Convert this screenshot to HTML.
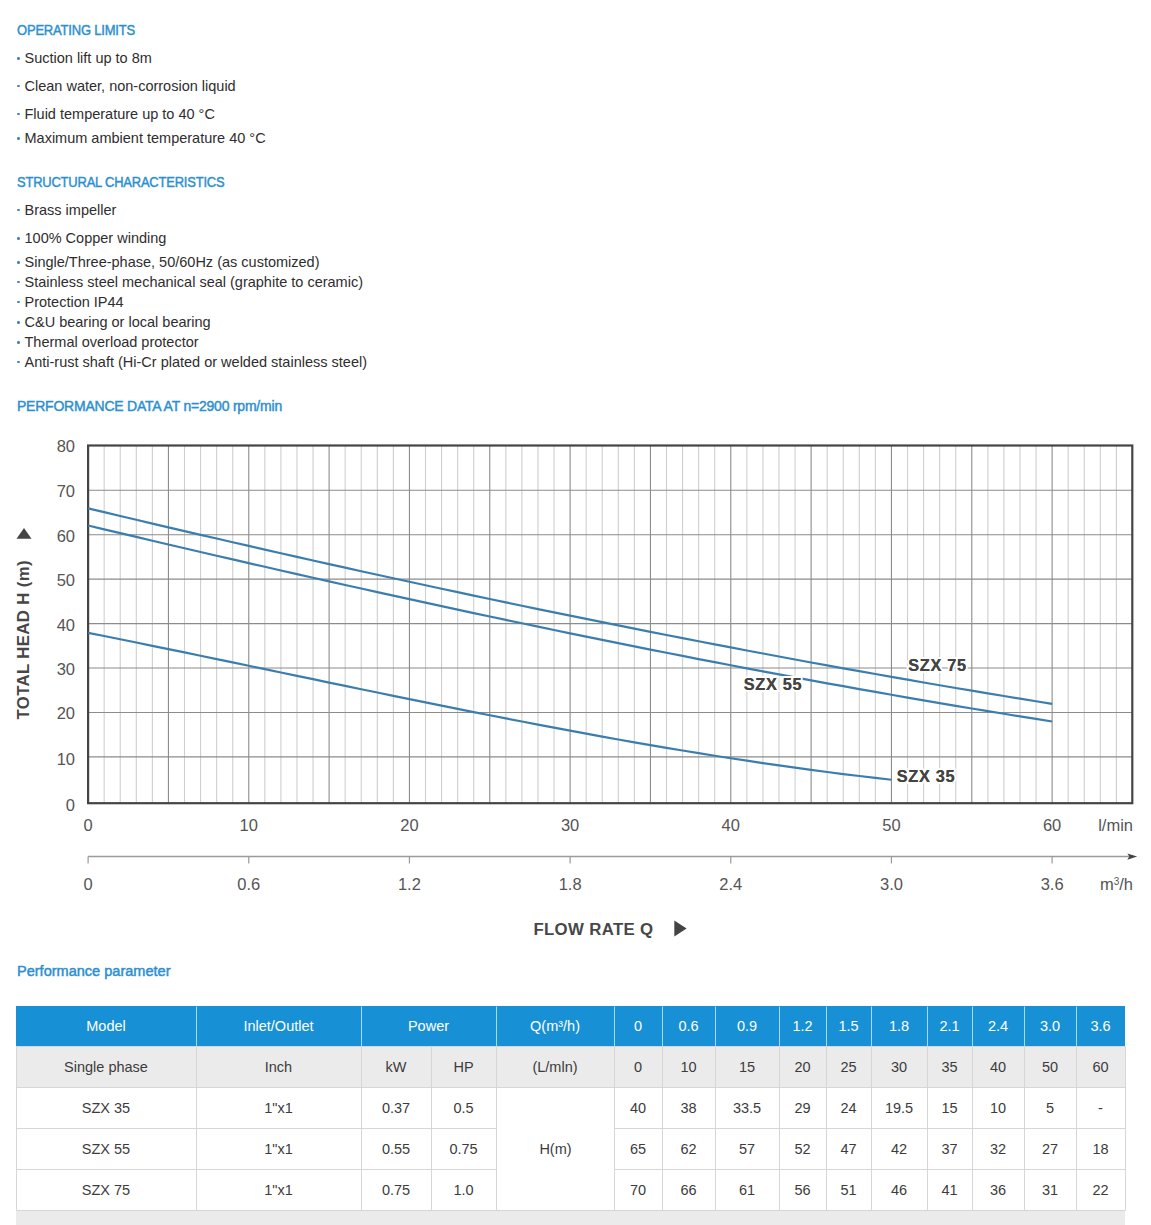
<!DOCTYPE html>
<html><head><meta charset="utf-8"><title>SZX</title><style>
*{margin:0;padding:0;box-sizing:border-box}
html,body{width:1151px;height:1225px;overflow:hidden;background:#fff}
body{position:relative;font-family:"Liberation Sans", sans-serif;}
.h{position:absolute;left:17px;height:20px;line-height:20px;font-size:13.5px;font-weight:normal;-webkit-text-stroke:0.45px #2b8fd0;color:#2b8fd0;white-space:nowrap;transform-origin:0 0}
.h.pp{letter-spacing:0}
.li{position:absolute;left:24.5px;height:20px;line-height:20px;font-size:14.5px;color:#2e2e2e;white-space:nowrap}
.li i{position:absolute;left:-7.3px;top:9.0px;width:2.7px;height:2.7px;border-radius:50%;background:#4a85b5}
.chart{position:absolute;left:0;top:0}
.chart text{font-family:"Liberation Sans", sans-serif}
.ax{font-size:16.5px;fill:#555}
.cl{font-size:16.3px;font-weight:bold;fill:#444;letter-spacing:0.7px}
.tt{font-size:16.8px;font-weight:bold;fill:#474747;letter-spacing:0.35px}
.thead{position:absolute;background:#1890d5}
.grey{position:absolute;background:#ebebeb}
.tl{position:absolute;left:0;top:0}
.th,.td{position:absolute;text-align:center;font-size:14.5px;white-space:nowrap}
.th{color:#fff}
.td{color:#3c3c3c}
</style></head>
<body>
<div class="h" style="top:20.15px;font-size:14.3px;letter-spacing:-0.2px;transform:scaleX(0.9079)">OPERATING LIMITS</div>
<div class="li" style="top:48.08px"><i></i>Suction lift up to 8m</div>
<div class="li" style="top:75.78px"><i></i>Clean water, non-corrosion liquid</div>
<div class="li" style="top:103.78px"><i></i>Fluid temperature up to 40 °C</div>
<div class="li" style="top:127.98px"><i></i>Maximum ambient temperature 40 °C</div>
<div class="h" style="top:171.95px;font-size:14.3px;letter-spacing:-0.2px;transform:scaleX(0.9041)">STRUCTURAL CHARACTERISTICS</div>
<div class="li" style="top:199.78px"><i></i>Brass impeller</div>
<div class="li" style="top:228.38px"><i></i>100% Copper winding</div>
<div class="li" style="top:251.88px"><i></i>Single/Three-phase, 50/60Hz (as customized)</div>
<div class="li" style="top:271.78px"><i></i>Stainless steel mechanical seal (graphite to ceramic)</div>
<div class="li" style="top:291.68px"><i></i>Protection IP44</div>
<div class="li" style="top:311.88px"><i></i>C&amp;U bearing or local bearing</div>
<div class="li" style="top:331.88px"><i></i>Thermal overload protector</div>
<div class="li" style="top:351.68px"><i></i>Anti-rust shaft (Hi-Cr plated or welded stainless steel)</div>
<div class="h" style="top:395.85px;font-size:14.3px;letter-spacing:-0.2px;transform:scaleX(0.9762)">PERFORMANCE DATA AT n=2900 rpm/min</div>
<div class="h" style="top:960.85px;font-size:14px;letter-spacing:0px;transform:scaleX(1.0381)">Performance parameter</div>

<svg class="chart" width="1151" height="960" viewBox="0 0 1151 960"><path d="M104.17 445.5V803.2M120.23 445.5V803.2M136.30 445.5V803.2M152.37 445.5V803.2M184.50 445.5V803.2M200.57 445.5V803.2M216.64 445.5V803.2M232.70 445.5V803.2M264.84 445.5V803.2M280.90 445.5V803.2M296.97 445.5V803.2M313.04 445.5V803.2M345.17 445.5V803.2M361.24 445.5V803.2M377.31 445.5V803.2M393.37 445.5V803.2M425.51 445.5V803.2M441.57 445.5V803.2M457.64 445.5V803.2M473.71 445.5V803.2M505.84 445.5V803.2M521.91 445.5V803.2M537.98 445.5V803.2M554.04 445.5V803.2M586.18 445.5V803.2M602.24 445.5V803.2M618.31 445.5V803.2M634.38 445.5V803.2M666.51 445.5V803.2M682.58 445.5V803.2M698.65 445.5V803.2M714.71 445.5V803.2M746.85 445.5V803.2M762.91 445.5V803.2M778.98 445.5V803.2M795.05 445.5V803.2M827.18 445.5V803.2M843.25 445.5V803.2M859.32 445.5V803.2M875.38 445.5V803.2M907.52 445.5V803.2M923.58 445.5V803.2M939.65 445.5V803.2M955.72 445.5V803.2M987.85 445.5V803.2M1003.92 445.5V803.2M1019.99 445.5V803.2M1036.05 445.5V803.2M1068.19 445.5V803.2M1084.25 445.5V803.2M1100.32 445.5V803.2M1116.39 445.5V803.2" stroke="#cfcfcf" stroke-width="1.1" fill="none"/><path d="M168.44 445.5V803.2M248.77 445.5V803.2M329.11 445.5V803.2M409.44 445.5V803.2M489.77 445.5V803.2M570.11 445.5V803.2M650.45 445.5V803.2M730.78 445.5V803.2M811.12 445.5V803.2M891.45 445.5V803.2M971.79 445.5V803.2M1052.12 445.5V803.2" stroke="#8c8c8c" stroke-width="1.1" fill="none"/><path d="M88.1 756.87H1132.3M88.1 712.44H1132.3M88.1 668.01H1132.3M88.1 623.58H1132.3M88.1 579.15H1132.3M88.1 534.72H1132.3M88.1 490.29H1132.3" stroke="#8c8c8c" stroke-width="1.1" fill="none"/><rect x="88.1" y="445.5" width="1044.2" height="357.7" fill="none" stroke="#444" stroke-width="2.2"/><polyline points="88.10,508.32 104.17,512.16 120.23,515.98 136.30,519.78 152.37,523.57 168.44,527.34 184.50,531.09 200.57,534.83 216.64,538.55 232.70,542.25 248.77,545.94 264.84,549.61 280.90,553.25 296.97,556.89 313.04,560.50 329.11,564.09 345.17,567.67 361.24,571.23 377.31,574.76 393.37,578.28 409.44,581.78 425.51,585.26 441.57,588.72 457.64,592.16 473.71,595.58 489.77,598.98 505.84,602.36 521.91,605.72 537.98,609.06 554.04,612.38 570.11,615.67 586.18,618.95 602.24,622.20 618.31,625.43 634.38,628.64 650.45,631.83 666.51,635.00 682.58,638.14 698.65,641.26 714.71,644.36 730.78,647.43 746.85,650.48 762.91,653.51 778.98,656.52 795.05,659.50 811.12,662.46 827.18,665.39 843.25,668.30 859.32,671.18 875.38,674.04 891.45,676.88 907.52,679.69 923.58,682.48 939.65,685.24 955.72,687.97 971.79,690.68 987.85,693.36 1003.92,696.02 1019.99,698.65 1036.05,701.26 1052.12,703.84" fill="none" stroke="#3b7eae" stroke-width="2.2" stroke-linejoin="round"/><polyline points="88.10,525.49 104.17,529.32 120.23,533.13 136.30,536.93 152.37,540.71 168.44,544.48 184.50,548.24 200.57,551.98 216.64,555.71 232.70,559.42 248.77,563.12 264.84,566.80 280.90,570.46 296.97,574.11 313.04,577.74 329.11,581.36 345.17,584.95 361.24,588.53 377.31,592.09 393.37,595.64 409.44,599.16 425.51,602.67 441.57,606.15 457.64,609.62 473.71,613.07 489.77,616.49 505.84,619.90 521.91,623.29 537.98,626.65 554.04,629.99 570.11,633.32 586.18,636.62 602.24,639.90 618.31,643.15 634.38,646.38 650.45,649.59 666.51,652.78 682.58,655.94 698.65,659.08 714.71,662.20 730.78,665.29 746.85,668.35 762.91,671.39 778.98,674.41 795.05,677.40 811.12,680.36 827.18,683.30 843.25,686.20 859.32,689.09 875.38,691.94 891.45,694.77 907.52,697.57 923.58,700.34 939.65,703.09 955.72,705.80 971.79,708.49 987.85,711.14 1003.92,713.77 1019.99,716.37 1036.05,718.93 1052.12,721.47" fill="none" stroke="#3b7eae" stroke-width="2.2" stroke-linejoin="round"/><polyline points="88.10,632.81 104.17,636.03 120.23,639.28 136.30,642.54 152.37,645.82 168.44,649.12 184.50,652.43 200.57,655.76 216.64,659.10 232.70,662.44 248.77,665.79 264.84,669.14 280.90,672.50 296.97,675.85 313.04,679.20 329.11,682.55 345.17,685.89 361.24,689.22 377.31,692.54 393.37,695.84 409.44,699.13 425.51,702.40 441.57,705.65 457.64,708.88 473.71,712.08 489.77,715.26 505.84,718.41 521.91,721.52 537.98,724.61 554.04,727.66 570.11,730.67 586.18,733.64 602.24,736.57 618.31,739.46 634.38,742.30 650.45,745.09 666.51,747.83 682.58,750.52 698.65,753.16 714.71,755.73 730.78,758.25 746.85,760.71 762.91,763.10 778.98,765.43 795.05,767.69 811.12,769.89 827.18,772.00 843.25,774.05 859.32,776.02 875.38,777.91 891.45,779.72" fill="none" stroke="#3b7eae" stroke-width="2.2" stroke-linejoin="round"/><text x="908.2" y="670.5" class="cl" stroke="#fff" stroke-width="4" paint-order="stroke">SZX 75</text><text x="908.2" y="670.5" class="cl">SZX 75</text><text x="743.8" y="690.4" class="cl" stroke="#fff" stroke-width="4" paint-order="stroke">SZX 55</text><text x="743.8" y="690.4" class="cl">SZX 55</text><text x="896.8" y="782.1" class="cl" stroke="#fff" stroke-width="4" paint-order="stroke">SZX 35</text><text x="896.8" y="782.1" class="cl">SZX 35</text><text x="75" y="810.7" class="ax" text-anchor="end">0</text><text x="75" y="764.8" class="ax" text-anchor="end">10</text><text x="75" y="719.3" class="ax" text-anchor="end">20</text><text x="75" y="674.9" class="ax" text-anchor="end">30</text><text x="75" y="630.5" class="ax" text-anchor="end">40</text><text x="75" y="586.0" class="ax" text-anchor="end">50</text><text x="75" y="541.6" class="ax" text-anchor="end">60</text><text x="75" y="497.2" class="ax" text-anchor="end">70</text><text x="75" y="452.4" class="ax" text-anchor="end">80</text><text x="88.1" y="830.7" class="ax" text-anchor="middle">0</text><text x="248.8" y="830.7" class="ax" text-anchor="middle">10</text><text x="409.4" y="830.7" class="ax" text-anchor="middle">20</text><text x="570.1" y="830.7" class="ax" text-anchor="middle">30</text><text x="730.8" y="830.7" class="ax" text-anchor="middle">40</text><text x="891.5" y="830.7" class="ax" text-anchor="middle">50</text><text x="1052.1" y="830.7" class="ax" text-anchor="middle">60</text><text x="1133" y="830.7" class="ax" text-anchor="end">l/min</text><path d="M88.1 856.6H1129" stroke="#9a9a9a" stroke-width="1.5"/><path d="M1127.3 853.4L1137.2 856.6L1127.3 859.8L1129.3 856.6Z" fill="#444"/><path d="M88.10 856.6V863.6M248.77 856.6V863.6M409.44 856.6V863.6M570.11 856.6V863.6M730.78 856.6V863.6M891.45 856.6V863.6M1052.12 856.6V863.6" stroke="#9a9a9a" stroke-width="1.2"/><text x="88.1" y="890" class="ax" text-anchor="middle">0</text><text x="248.8" y="890" class="ax" text-anchor="middle">0.6</text><text x="409.4" y="890" class="ax" text-anchor="middle">1.2</text><text x="570.1" y="890" class="ax" text-anchor="middle">1.8</text><text x="730.8" y="890" class="ax" text-anchor="middle">2.4</text><text x="891.5" y="890" class="ax" text-anchor="middle">3.0</text><text x="1052.1" y="890" class="ax" text-anchor="middle">3.6</text><text x="1133" y="890" class="ax" text-anchor="end">m<tspan dy="-5.5" font-size="10">3</tspan><tspan dy="5.5">/h</tspan></text><text x="533.4" y="935.2" class="tt">FLOW RATE Q</text><path d="M674.3 920.6L686.6 928.5L674.3 936.4Z" fill="#444"/><text transform="translate(29.4 719.5) rotate(-90)" class="tt">TOTAL HEAD H (m)</text><path d="M16.5 538.8L24 528L31.5 538.8Z" fill="#444"/></svg>
<div class="thead" style="left:16px;top:1006px;width:1109.0px;height:40.0px"></div><div class="grey" style="left:16px;top:1046px;width:1109.0px;height:41.0px"></div><div class="grey" style="left:16px;top:1210px;width:1109.0px;height:30px"></div><svg class="tl" width="1151" height="1225"><path d="M16 1046H1125M16 1087H1125M16 1128H1125M16 1169H1125M16 1210H1125M16 1046V1210M196 1046V1210M361 1046V1210M431 1046V1210M496 1046V1210M614 1046V1210M662 1046V1210M715 1046V1210M779 1046V1210M826 1046V1210M871 1046V1210M927 1046V1210M972 1046V1210M1024 1046V1210M1076 1046V1210M1125 1046V1210" stroke="#d6d6d6" stroke-width="1" fill="none" transform="translate(0.5 0.5)"/><path d="M196 1006V1046M361 1006V1046M496 1006V1046M614 1006V1046M662 1006V1046M715 1006V1046M779 1006V1046M826 1006V1046M871 1006V1046M927 1006V1046M972 1006V1046M1024 1006V1046M1076 1006V1046" stroke="#a6dbf7" stroke-width="1" fill="none" transform="translate(0.5 0.5)"/></svg><div class="th" style="left:16px;top:1006.0px;width:180.0px;height:40.0px;line-height:40.0px">Model</div><div class="th" style="left:196px;top:1006.0px;width:165.0px;height:40.0px;line-height:40.0px">Inlet/Outlet</div><div class="th" style="left:361px;top:1006.0px;width:135.0px;height:40.0px;line-height:40.0px">Power</div><div class="th" style="left:496px;top:1006.0px;width:118.0px;height:40.0px;line-height:40.0px">Q(m³/h)</div><div class="th" style="left:614px;top:1006.0px;width:48.0px;height:40.0px;line-height:40.0px">0</div><div class="th" style="left:662px;top:1006.0px;width:53.0px;height:40.0px;line-height:40.0px">0.6</div><div class="th" style="left:715px;top:1006.0px;width:64.0px;height:40.0px;line-height:40.0px">0.9</div><div class="th" style="left:779px;top:1006.0px;width:47.0px;height:40.0px;line-height:40.0px">1.2</div><div class="th" style="left:826px;top:1006.0px;width:45.0px;height:40.0px;line-height:40.0px">1.5</div><div class="th" style="left:871px;top:1006.0px;width:56.0px;height:40.0px;line-height:40.0px">1.8</div><div class="th" style="left:927px;top:1006.0px;width:45.0px;height:40.0px;line-height:40.0px">2.1</div><div class="th" style="left:972px;top:1006.0px;width:52.0px;height:40.0px;line-height:40.0px">2.4</div><div class="th" style="left:1024px;top:1006.0px;width:52.0px;height:40.0px;line-height:40.0px">3.0</div><div class="th" style="left:1076px;top:1006.0px;width:49.0px;height:40.0px;line-height:40.0px">3.6</div><div class="td" style="left:16px;top:1046.6px;width:180.0px;height:41.0px;line-height:41.0px">Single phase</div><div class="td" style="left:196px;top:1046.6px;width:165.0px;height:41.0px;line-height:41.0px">Inch</div><div class="td" style="left:361px;top:1046.6px;width:70.0px;height:41.0px;line-height:41.0px">kW</div><div class="td" style="left:431px;top:1046.6px;width:65.0px;height:41.0px;line-height:41.0px">HP</div><div class="td" style="left:496px;top:1046.6px;width:118.0px;height:41.0px;line-height:41.0px">(L/mln)</div><div class="td" style="left:614px;top:1046.6px;width:48.0px;height:41.0px;line-height:41.0px">0</div><div class="td" style="left:662px;top:1046.6px;width:53.0px;height:41.0px;line-height:41.0px">10</div><div class="td" style="left:715px;top:1046.6px;width:64.0px;height:41.0px;line-height:41.0px">15</div><div class="td" style="left:779px;top:1046.6px;width:47.0px;height:41.0px;line-height:41.0px">20</div><div class="td" style="left:826px;top:1046.6px;width:45.0px;height:41.0px;line-height:41.0px">25</div><div class="td" style="left:871px;top:1046.6px;width:56.0px;height:41.0px;line-height:41.0px">30</div><div class="td" style="left:927px;top:1046.6px;width:45.0px;height:41.0px;line-height:41.0px">35</div><div class="td" style="left:972px;top:1046.6px;width:52.0px;height:41.0px;line-height:41.0px">40</div><div class="td" style="left:1024px;top:1046.6px;width:52.0px;height:41.0px;line-height:41.0px">50</div><div class="td" style="left:1076px;top:1046.6px;width:49.0px;height:41.0px;line-height:41.0px">60</div><div class="td" style="left:16px;top:1087.6px;width:180.0px;height:41.0px;line-height:41.0px">SZX 35</div><div class="td" style="left:196px;top:1087.6px;width:165.0px;height:41.0px;line-height:41.0px">1"x1</div><div class="td" style="left:361px;top:1087.6px;width:70.0px;height:41.0px;line-height:41.0px">0.37</div><div class="td" style="left:431px;top:1087.6px;width:65.0px;height:41.0px;line-height:41.0px">0.5</div><div class="td" style="left:614px;top:1087.6px;width:48.0px;height:41.0px;line-height:41.0px">40</div><div class="td" style="left:662px;top:1087.6px;width:53.0px;height:41.0px;line-height:41.0px">38</div><div class="td" style="left:715px;top:1087.6px;width:64.0px;height:41.0px;line-height:41.0px">33.5</div><div class="td" style="left:779px;top:1087.6px;width:47.0px;height:41.0px;line-height:41.0px">29</div><div class="td" style="left:826px;top:1087.6px;width:45.0px;height:41.0px;line-height:41.0px">24</div><div class="td" style="left:871px;top:1087.6px;width:56.0px;height:41.0px;line-height:41.0px">19.5</div><div class="td" style="left:927px;top:1087.6px;width:45.0px;height:41.0px;line-height:41.0px">15</div><div class="td" style="left:972px;top:1087.6px;width:52.0px;height:41.0px;line-height:41.0px">10</div><div class="td" style="left:1024px;top:1087.6px;width:52.0px;height:41.0px;line-height:41.0px">5</div><div class="td" style="left:1076px;top:1087.6px;width:49.0px;height:41.0px;line-height:41.0px">-</div><div class="td" style="left:16px;top:1128.6px;width:180.0px;height:41.0px;line-height:41.0px">SZX 55</div><div class="td" style="left:196px;top:1128.6px;width:165.0px;height:41.0px;line-height:41.0px">1"x1</div><div class="td" style="left:361px;top:1128.6px;width:70.0px;height:41.0px;line-height:41.0px">0.55</div><div class="td" style="left:431px;top:1128.6px;width:65.0px;height:41.0px;line-height:41.0px">0.75</div><div class="td" style="left:614px;top:1128.6px;width:48.0px;height:41.0px;line-height:41.0px">65</div><div class="td" style="left:662px;top:1128.6px;width:53.0px;height:41.0px;line-height:41.0px">62</div><div class="td" style="left:715px;top:1128.6px;width:64.0px;height:41.0px;line-height:41.0px">57</div><div class="td" style="left:779px;top:1128.6px;width:47.0px;height:41.0px;line-height:41.0px">52</div><div class="td" style="left:826px;top:1128.6px;width:45.0px;height:41.0px;line-height:41.0px">47</div><div class="td" style="left:871px;top:1128.6px;width:56.0px;height:41.0px;line-height:41.0px">42</div><div class="td" style="left:927px;top:1128.6px;width:45.0px;height:41.0px;line-height:41.0px">37</div><div class="td" style="left:972px;top:1128.6px;width:52.0px;height:41.0px;line-height:41.0px">32</div><div class="td" style="left:1024px;top:1128.6px;width:52.0px;height:41.0px;line-height:41.0px">27</div><div class="td" style="left:1076px;top:1128.6px;width:49.0px;height:41.0px;line-height:41.0px">18</div><div class="td" style="left:16px;top:1169.6px;width:180.0px;height:41.0px;line-height:41.0px">SZX 75</div><div class="td" style="left:196px;top:1169.6px;width:165.0px;height:41.0px;line-height:41.0px">1"x1</div><div class="td" style="left:361px;top:1169.6px;width:70.0px;height:41.0px;line-height:41.0px">0.75</div><div class="td" style="left:431px;top:1169.6px;width:65.0px;height:41.0px;line-height:41.0px">1.0</div><div class="td" style="left:614px;top:1169.6px;width:48.0px;height:41.0px;line-height:41.0px">70</div><div class="td" style="left:662px;top:1169.6px;width:53.0px;height:41.0px;line-height:41.0px">66</div><div class="td" style="left:715px;top:1169.6px;width:64.0px;height:41.0px;line-height:41.0px">61</div><div class="td" style="left:779px;top:1169.6px;width:47.0px;height:41.0px;line-height:41.0px">56</div><div class="td" style="left:826px;top:1169.6px;width:45.0px;height:41.0px;line-height:41.0px">51</div><div class="td" style="left:871px;top:1169.6px;width:56.0px;height:41.0px;line-height:41.0px">46</div><div class="td" style="left:927px;top:1169.6px;width:45.0px;height:41.0px;line-height:41.0px">41</div><div class="td" style="left:972px;top:1169.6px;width:52.0px;height:41.0px;line-height:41.0px">36</div><div class="td" style="left:1024px;top:1169.6px;width:52.0px;height:41.0px;line-height:41.0px">31</div><div class="td" style="left:1076px;top:1169.6px;width:49.0px;height:41.0px;line-height:41.0px">22</div><div class="td" style="left:497px;top:1088px;margin-top:-0.5px;width:117.0px;height:122.0px;line-height:122.0px;background:#fff">H(m)</div>
</body></html>
